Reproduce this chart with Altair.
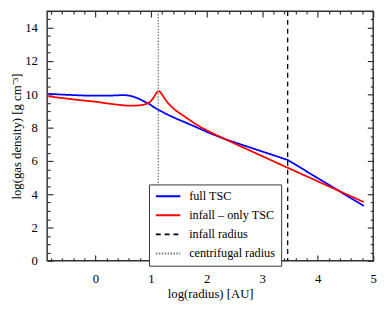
import altair as alt
import pandas as pd

# ---- data ----
series_names = ["full TSC", "infall – only TSC", "infall radius", "centrifugal radius"]
series_colors = ["#0000ff", "#ff0000", "#000000", "#777777"]
series_dashes = [[1, 0], [1, 0], [5, 4], [1.5, 1.5]]

blue_x = [-0.85, -0.5, -0.2, 0.0, 0.2, 0.35, 0.45, 0.52, 0.58, 0.64, 0.7, 0.78, 0.86, 0.92, 0.98, 1.05,
          1.13, 1.23, 1.33, 1.45, 1.57, 1.8, 2.05, 2.33, 3.46, 4.83]
blue_y = [10.03, 9.97, 9.93, 9.92, 9.92, 9.935, 9.95, 9.955, 9.94, 9.90, 9.84, 9.74, 9.60, 9.50, 9.40, 9.23,
          9.08, 8.90, 8.73, 8.55, 8.38, 8.05, 7.68, 7.31, 6.06, 3.30]

red_x = [-0.85, -0.3, 0.0, 0.2, 0.39, 0.55, 0.7, 0.8, 0.86, 0.92, 0.98, 1.02, 1.06, 1.09, 1.12, 1.14, 1.16,
         1.19, 1.22, 1.26, 1.3, 1.35, 1.42, 1.5, 1.6, 1.7, 1.8, 1.9, 2.05, 2.2, 2.33, 3.46, 4.83]
red_y = [9.88, 9.66, 9.56, 9.46, 9.38, 9.33, 9.32, 9.34, 9.37, 9.43, 9.55, 9.68, 9.88, 10.05, 10.16, 10.19, 10.16,
         10.04, 9.88, 9.68, 9.50, 9.32, 9.10, 8.90, 8.68, 8.45, 8.22, 8.02, 7.76, 7.52, 7.31, 5.59, 3.53]

radius_x = [3.46, 1.13]
radius_names = ["infall radius", "centrifugal radius"]

x_tick_values = [-0.8, -0.6, -0.4, -0.2, 0.0, 0.2, 0.4, 0.6, 0.8, 1.0, 1.2, 1.4, 1.6, 1.8, 2.0,
                 2.2, 2.4, 2.6, 2.8, 3.0, 3.2, 3.4, 3.6, 3.8, 4.0, 4.2, 4.4, 4.6, 4.8, 5.0]
y_tick_values = [0, 0.5, 1, 1.5, 2, 2.5, 3, 3.5, 4, 4.5, 5, 5.5, 6, 6.5, 7, 7.5, 8, 8.5, 9, 9.5,
                 10, 10.5, 11, 11.5, 12, 12.5, 13, 13.5, 14, 14.5, 15]

x_domain = [-0.87, 5.0]
y_domain = [0, 15]

# ---- tables ----
rows = []
for i, (a, b) in enumerate(zip(blue_x, blue_y)):
    rows.append({"x": a, "y": b, "series": series_names[0], "i": i})
for i, (a, b) in enumerate(zip(red_x, red_y)):
    rows.append({"x": a, "y": b, "series": series_names[1], "i": i})
curve_df = pd.DataFrame(rows)
rule_df = pd.DataFrame({"x": radius_x, "series": radius_names})

FONT = "Liberation Serif"
xs = alt.Scale(domain=x_domain, nice=False, zero=False)
ys = alt.Scale(domain=y_domain, nice=False, zero=False)
color_scale = alt.Scale(domain=series_names, range=series_colors)
dash_scale = alt.Scale(domain=series_names, range=series_dashes)

x_major = "abs(datum.value - round(datum.value)) < 0.01"
y_major = "abs(datum.value % 2) < 0.01"

def x_axis(orient, labels):
    return alt.Axis(orient=orient, values=x_tick_values, labels=labels,
                    labelExpr="abs(datum.value - round(datum.value)) < 0.01 ? format(datum.value, 'd') : ''",
                    labelOverlap=False, labelFlush=False, grid=False, domain=False,
                    tickSize={"condition": {"test": x_major, "value": -6}, "value": -3},
                    tickColor="#333", tickWidth=1.2, labelPadding=18, titlePadding=-1,
                    title="log(radius) [AU]" if labels else None)

def y_axis(orient, labels):
    return alt.Axis(orient=orient, values=y_tick_values, labels=labels,
                    labelExpr="abs(datum.value % 2) < 0.01 ? format(datum.value, 'd') : ''",
                    labelOverlap=False, labelFlush=False, grid=False, domain=False,
                    tickSize={"condition": {"test": y_major, "value": -6}, "value": -3},
                    tickColor="#333", tickWidth=1.2, labelPadding=16, titlePadding=1,
                    title="log(gas density) [g cm⁻³]" if labels else None)

legend = alt.Legend(title=None, orient="none", legendX=104, legendY=177)

curves = alt.Chart(curve_df).mark_line(strokeWidth=1.8).encode(
    x=alt.X("x:Q", scale=xs, axis=x_axis("bottom", True)),
    y=alt.Y("y:Q", scale=ys, axis=y_axis("left", True)),
    color=alt.Color("series:N", scale=color_scale, legend=legend),
    strokeDash=alt.StrokeDash("series:N", scale=dash_scale, legend=legend),
    order="i:Q",
)

rules = alt.Chart(rule_df).mark_rule(strokeWidth=1.3).encode(
    x=alt.X("x:Q", scale=xs, axis=None),
    color=alt.Color("series:N", scale=color_scale, legend=legend),
    strokeDash=alt.StrokeDash("series:N", scale=dash_scale, legend=legend),
)

mirror = alt.Chart(curve_df).mark_point(opacity=0).encode(
    x=alt.X("x:Q", scale=xs, axis=x_axis("top", False)),
    y=alt.Y("y:Q", scale=ys, axis=y_axis("right", False)),
)

chart = alt.layer(curves, rules, mirror).resolve_axis(x="independent", y="independent").properties(
    width=333, height=255,
    autosize=alt.AutoSizeParams(type="none"),
    padding={"left": 40, "top": 0, "right": 10, "bottom": 46},
).configure(font=FONT).configure_view(
    stroke="#333", strokeWidth=1.5
).configure_axis(
    labelFont=FONT, labelFontSize=13, labelColor="#000",
    titleFont=FONT, titleFontSize=13, titleFontWeight="normal", titleColor="#000",
).configure_legend(
    labelFont=FONT, labelFontSize=12.5, labelColor="#000",
    strokeColor="#333", fillColor="white", padding=6, cornerRadius=0,
    symbolType="stroke", symbolSize=625, symbolStrokeWidth=2, clipHeight=12,
    rowPadding=6.5, labelOffset=8,
)

chart.save("out.html", embed_options={"renderer": "svg", "actions": False})
